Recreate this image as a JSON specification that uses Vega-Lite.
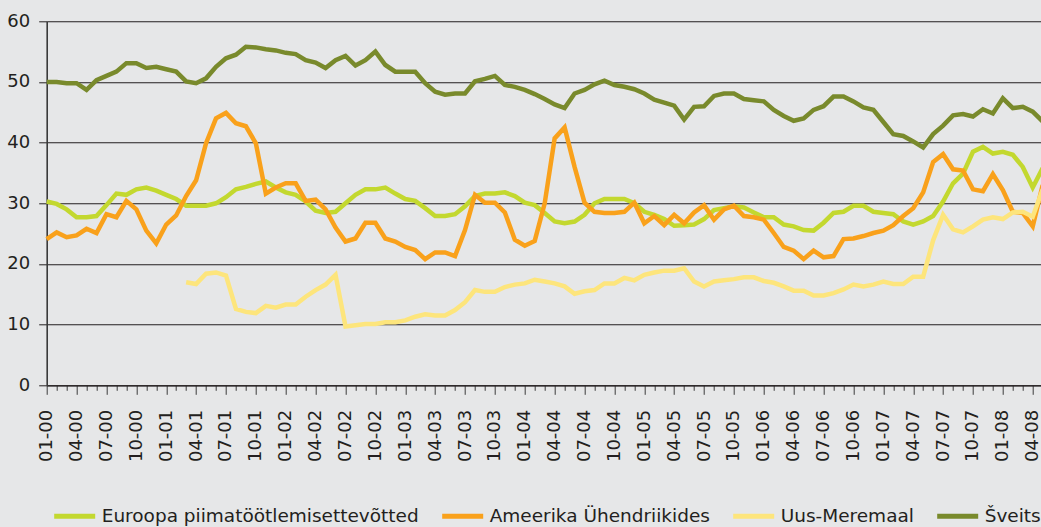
{
  "$schema": "https://vega.github.io/schema/vega-lite/v6.json",
  "width": 996,
  "height": 364,
  "autosize": {"type": "none"},
  "padding": {"left": 46.7, "top": 21.3, "right": 0, "bottom": 141.7},
  "background": "#e6e7e8",
  "config": {"view": {"stroke": null}, "font": "DejaVu Sans"},
  "data": {"values": [
    {"d":"2000-01-01","eu":30.3,"us":24.1,"ch":50.0},
    {"d":"2000-02-01","eu":29.9,"us":25.2,"ch":50.0},
    {"d":"2000-03-01","eu":29.0,"us":24.4,"ch":49.8},
    {"d":"2000-04-01","eu":27.7,"us":24.7,"ch":49.8},
    {"d":"2000-05-01","eu":27.7,"us":25.8,"ch":48.7},
    {"d":"2000-06-01","eu":27.9,"us":25.1,"ch":50.3},
    {"d":"2000-07-01","eu":29.7,"us":28.2,"ch":51.0},
    {"d":"2000-08-01","eu":31.6,"us":27.7,"ch":51.7},
    {"d":"2000-09-01","eu":31.4,"us":30.4,"ch":53.1},
    {"d":"2000-10-01","eu":32.3,"us":29.0,"ch":53.1},
    {"d":"2000-11-01","eu":32.6,"us":25.5,"ch":52.3},
    {"d":"2000-12-01","eu":32.1,"us":23.4,"ch":52.5},
    {"d":"2001-01-01","eu":31.4,"us":26.5,"ch":52.1},
    {"d":"2001-02-01","eu":30.7,"us":28.0,"ch":51.7},
    {"d":"2001-03-01","eu":29.6,"us":31.2,"nz":17.0,"ch":50.1},
    {"d":"2001-04-01","eu":29.6,"us":33.8,"nz":16.7,"ch":49.8},
    {"d":"2001-05-01","eu":29.6,"us":39.9,"nz":18.4,"ch":50.6},
    {"d":"2001-06-01","eu":30.0,"us":44.0,"nz":18.6,"ch":52.5},
    {"d":"2001-07-01","eu":31.0,"us":44.9,"nz":18.1,"ch":53.9},
    {"d":"2001-08-01","eu":32.3,"us":43.2,"nz":12.6,"ch":54.5},
    {"d":"2001-09-01","eu":32.7,"us":42.7,"nz":12.1,"ch":55.8},
    {"d":"2001-10-01","eu":33.2,"us":39.9,"nz":11.9,"ch":55.7},
    {"d":"2001-11-01","eu":33.6,"us":31.6,"nz":13.1,"ch":55.4},
    {"d":"2001-12-01","eu":32.6,"us":32.6,"nz":12.8,"ch":55.2},
    {"d":"2002-01-01","eu":31.8,"us":33.3,"nz":13.3,"ch":54.8},
    {"d":"2002-02-01","eu":31.4,"us":33.3,"nz":13.3,"ch":54.6},
    {"d":"2002-03-01","eu":30.3,"us":30.4,"nz":14.6,"ch":53.6},
    {"d":"2002-04-01","eu":28.8,"us":30.6,"nz":15.7,"ch":53.2},
    {"d":"2002-05-01","eu":28.4,"us":29.0,"nz":16.6,"ch":52.3},
    {"d":"2002-06-01","eu":28.6,"us":26.0,"nz":18.2,"ch":53.6},
    {"d":"2002-07-01","eu":30.0,"us":23.7,"nz":9.7,"ch":54.3},
    {"d":"2002-08-01","eu":31.4,"us":24.2,"nz":9.9,"ch":52.7},
    {"d":"2002-09-01","eu":32.3,"us":26.8,"nz":10.1,"ch":53.6},
    {"d":"2002-10-01","eu":32.3,"us":26.8,"nz":10.1,"ch":55.0},
    {"d":"2002-11-01","eu":32.6,"us":24.2,"nz":10.4,"ch":52.8},
    {"d":"2002-12-01","eu":31.6,"us":23.7,"nz":10.4,"ch":51.7},
    {"d":"2003-01-01","eu":30.7,"us":22.8,"nz":10.7,"ch":51.7},
    {"d":"2003-02-01","eu":30.4,"us":22.3,"nz":11.3,"ch":51.7},
    {"d":"2003-03-01","eu":29.2,"us":20.8,"nz":11.7,"ch":49.8},
    {"d":"2003-04-01","eu":27.9,"us":21.9,"nz":11.5,"ch":48.4},
    {"d":"2003-05-01","eu":27.9,"us":21.9,"nz":11.5,"ch":47.9},
    {"d":"2003-06-01","eu":28.2,"us":21.3,"nz":12.4,"ch":48.1},
    {"d":"2003-07-01","eu":29.5,"us":25.6,"nz":13.7,"ch":48.1},
    {"d":"2003-08-01","eu":31.2,"us":31.4,"nz":15.7,"ch":50.1},
    {"d":"2003-09-01","eu":31.6,"us":30.1,"nz":15.4,"ch":50.5},
    {"d":"2003-10-01","eu":31.6,"us":30.1,"nz":15.4,"ch":51.0},
    {"d":"2003-11-01","eu":31.8,"us":28.5,"nz":16.2,"ch":49.5},
    {"d":"2003-12-01","eu":31.2,"us":24.0,"nz":16.6,"ch":49.2},
    {"d":"2004-01-01","eu":30.1,"us":23.0,"nz":16.8,"ch":48.7},
    {"d":"2004-02-01","eu":29.7,"us":23.8,"nz":17.4,"ch":48.0},
    {"d":"2004-03-01","eu":28.4,"us":30.0,"nz":17.1,"ch":47.2},
    {"d":"2004-04-01","eu":27.0,"us":40.7,"nz":16.8,"ch":46.3},
    {"d":"2004-05-01","eu":26.7,"us":42.5,"nz":16.3,"ch":45.7},
    {"d":"2004-06-01","eu":27.0,"us":36.0,"nz":15.1,"ch":48.1},
    {"d":"2004-07-01","eu":28.1,"us":30.1,"nz":15.5,"ch":48.7},
    {"d":"2004-08-01","eu":30.0,"us":28.6,"nz":15.7,"ch":49.6},
    {"d":"2004-09-01","eu":30.7,"us":28.4,"nz":16.8,"ch":50.2},
    {"d":"2004-10-01","eu":30.7,"us":28.4,"nz":16.8,"ch":49.5},
    {"d":"2004-11-01","eu":30.7,"us":28.6,"nz":17.7,"ch":49.2},
    {"d":"2004-12-01","eu":30.0,"us":30.1,"nz":17.3,"ch":48.8},
    {"d":"2005-01-01","eu":28.6,"us":26.7,"nz":18.2,"ch":48.1},
    {"d":"2005-02-01","eu":28.1,"us":27.9,"nz":18.6,"ch":47.1},
    {"d":"2005-03-01","eu":27.4,"us":26.4,"nz":18.9,"ch":46.6},
    {"d":"2005-04-01","eu":26.3,"us":28.1,"nz":18.9,"ch":46.1},
    {"d":"2005-05-01","eu":26.4,"us":26.7,"nz":19.3,"ch":43.8},
    {"d":"2005-06-01","eu":26.5,"us":28.5,"nz":17.1,"ch":45.9},
    {"d":"2005-07-01","eu":27.4,"us":29.7,"nz":16.3,"ch":46.0},
    {"d":"2005-08-01","eu":28.9,"us":27.3,"nz":17.1,"ch":47.7},
    {"d":"2005-09-01","eu":29.2,"us":29.0,"nz":17.3,"ch":48.1},
    {"d":"2005-10-01","eu":29.5,"us":29.6,"nz":17.5,"ch":48.1},
    {"d":"2005-11-01","eu":29.3,"us":27.9,"nz":17.8,"ch":47.2},
    {"d":"2005-12-01","eu":28.5,"us":27.7,"nz":17.8,"ch":47.0},
    {"d":"2006-01-01","eu":27.7,"us":27.3,"nz":17.2,"ch":46.8},
    {"d":"2006-02-01","eu":27.7,"us":25.1,"nz":16.9,"ch":45.4},
    {"d":"2006-03-01","eu":26.5,"us":22.8,"nz":16.3,"ch":44.4},
    {"d":"2006-04-01","eu":26.2,"us":22.2,"nz":15.6,"ch":43.6},
    {"d":"2006-05-01","eu":25.6,"us":20.8,"nz":15.6,"ch":44.0},
    {"d":"2006-06-01","eu":25.5,"us":22.2,"nz":14.8,"ch":45.4},
    {"d":"2006-07-01","eu":26.8,"us":21.1,"nz":14.8,"ch":46.0},
    {"d":"2006-08-01","eu":28.4,"us":21.3,"nz":15.2,"ch":47.6},
    {"d":"2006-09-01","eu":28.6,"us":24.1,"nz":15.8,"ch":47.6},
    {"d":"2006-10-01","eu":29.6,"us":24.2,"nz":16.6,"ch":46.8},
    {"d":"2006-11-01","eu":29.6,"us":24.6,"nz":16.3,"ch":45.8},
    {"d":"2006-12-01","eu":28.6,"us":25.1,"nz":16.6,"ch":45.4},
    {"d":"2007-01-01","eu":28.4,"us":25.5,"nz":17.1,"ch":43.4},
    {"d":"2007-02-01","eu":28.2,"us":26.4,"nz":16.7,"ch":41.4},
    {"d":"2007-03-01","eu":27.0,"us":27.9,"nz":16.7,"ch":41.1},
    {"d":"2007-04-01","eu":26.5,"us":29.2,"nz":17.9,"ch":40.2},
    {"d":"2007-05-01","eu":27.0,"us":31.8,"nz":17.9,"ch":39.2},
    {"d":"2007-06-01","eu":27.9,"us":36.8,"nz":23.9,"ch":41.4},
    {"d":"2007-07-01","eu":30.3,"us":38.1,"nz":28.1,"ch":42.8},
    {"d":"2007-08-01","eu":33.3,"us":35.6,"nz":25.7,"ch":44.5},
    {"d":"2007-09-01","eu":34.9,"us":35.4,"nz":25.2,"ch":44.7},
    {"d":"2007-10-01","eu":38.5,"us":32.3,"nz":26.2,"ch":44.3},
    {"d":"2007-11-01","eu":39.3,"us":32.0,"nz":27.3,"ch":45.5},
    {"d":"2007-12-01","eu":38.2,"us":34.8,"nz":27.7,"ch":44.8},
    {"d":"2008-01-01","eu":38.5,"us":32.2,"nz":27.4,"ch":47.3},
    {"d":"2008-02-01","eu":38.0,"us":28.6,"nz":28.5,"ch":45.7},
    {"d":"2008-03-01","eu":36.0,"us":28.4,"nz":28.6,"ch":45.9},
    {"d":"2008-04-01","eu":32.6,"us":26.2,"nz":27.8,"ch":45.1},
    {"d":"2008-05-01","eu":35.8,"us":33.0,"nz":32.3,"ch":43.5}
  ]},
  "transform": [{"fold": ["eu", "us", "nz", "ch"], "as": ["s", "v"]}],
  "mark": {"type": "line", "strokeWidth": 4.5},
  "encoding": {
    "x": {
      "field": "d", "timeUnit": "utcyearmonth", "type": "ordinal",
      "scale": {"type": "point", "padding": 0},
      "axis": {
        "title": null, "labelAngle": -90, "labelOverlap": false,
        "labelExpr": "utcmonth(datum.value) % 3 === 0 ? utcFormat(datum.value, '%m-%y') : ''",
        "labelFontSize": 18, "labelColor": "#231f20", "labelPadding": 15,
        "tickColor": "#3a3a3a", "tickWidth": 1,
        "tickSize": {"condition": {"test": "utcmonth(datum.value) % 3 === 0", "value": 9}, "value": 5},
        "domainColor": "#231f20", "domainWidth": 1.2, "grid": false
      }
    },
    "y": {
      "field": "v", "type": "quantitative",
      "scale": {"domain": [0, 60], "nice": false},
      "axis": {
        "title": null, "values": [0, 10, 20, 30, 40, 50, 60],
        "grid": true, "gridColor": "#231f20", "gridWidth": 1.1,
        "domainColor": "#3a3a3a", "domainWidth": 1.6,
        "tickColor": "#231f20", "tickSize": 8, "labelPadding": 9,
        "labelFontSize": 18, "labelColor": "#231f20"
      }
    },
    "color": {
      "field": "s", "type": "nominal",
      "scale": {"domain": ["eu", "us", "nz", "ch"], "range": ["#c3d82f", "#f9a11b", "#fde57c", "#798a2c"]},
      "legend": {
        "orient": "none", "legendX": 5, "legendY": 472, "direction": "horizontal",
        "title": null, "padding": 0,
        "symbolType": "stroke", "symbolSize": 1681, "symbolStrokeWidth": 5,
        "labelFontSize": 18.5, "labelOffset": 4, "columnPadding": 12, "labelLimit": 0,
        "labelColor": "#231f20",
        "labelExpr": "{'eu': 'Euroopa piimatöötlemisettevõtted', 'us': 'Ameerika Ühendriikides', 'nz': 'Uus-Meremaal', 'ch': 'Šveits'}[datum.value]"
      }
    }
  }
}
